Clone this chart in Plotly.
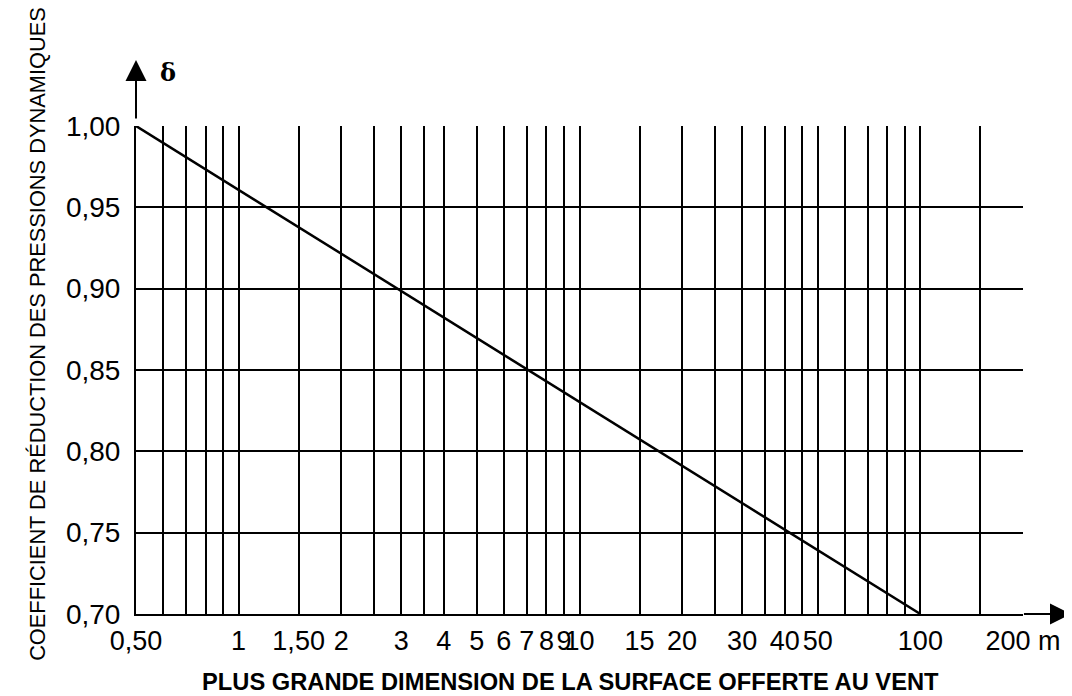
import math
import plotly.graph_objects as go

# Data
line_x = [0.5, 100]
line_y = [1.00, 0.70]

grid_x = [0.5, 0.6, 0.7, 0.8, 0.9, 1, 1.5, 2, 2.5, 3, 3.5, 4, 5, 6, 7, 8, 9,
          10, 15, 20, 25, 30, 35, 40, 45, 50, 60, 70, 80, 90, 100, 150, 200]
label_x = {0.5: "0,50", 1: "1", 1.5: "1,50", 2: "2", 3: "3", 4: "4", 5: "5",
           6: "6", 7: "7", 8: "8", 9: "9", 10: "10", 15: "15", 20: "20",
           30: "30", 40: "40", 50: "50", 100: "100", 200: "200 m"}
y_vals = [0.70, 0.75, 0.80, 0.85, 0.90, 0.95, 1.00]
y_text = ["0,70", "0,75", "0,80", "0,85", "0,90", "0,95", "1,00"]

x_title = "PLUS GRANDE DIMENSION DE LA SURFACE OFFERTE AU VENT"
y_title = "COEFFICIENT DE RÉDUCTION DES PRESSIONS DYNAMIQUES"

fig = go.Figure()
fig.add_trace(go.Scatter(x=line_x, y=line_y, mode="lines",
                         line=dict(color="black", width=2.5),
                         showlegend=False, hoverinfo="skip"))

font_main = "Liberation Sans, Arial, Helvetica, sans-serif"

fig.update_layout(
    width=1064, height=688,
    margin=dict(l=128, r=49, t=118, b=82),
    paper_bgcolor="white", plot_bgcolor="white",
    font=dict(family=font_main, color="black", size=27),
    xaxis=dict(
        type="log",
        range=[math.log10(0.5), math.log10(200)],
        tickmode="array",
        tickvals=grid_x,
        ticktext=[label_x.get(v, "") for v in grid_x],
        tickangle=0, automargin=False,
        showgrid=True, gridcolor="black", gridwidth=1.5,
        showline=True, linecolor="black", linewidth=2, mirror=False,
        ticks="outside", ticklen=2, tickcolor="rgba(0,0,0,0)",
        tickfont=dict(size=27, family=font_main),
        zeroline=False,
    ),
    yaxis=dict(
        range=[0.70, 1.00],
        tickmode="array",
        tickvals=y_vals,
        ticktext=y_text,
        automargin=False,
        showgrid=True, gridcolor="black", gridwidth=1.5,
        showline=True, linecolor="black", linewidth=2,
        ticks="outside", ticklen=8, tickcolor="rgba(0,0,0,0)",
        tickfont=dict(size=28, family=font_main),
        zeroline=False,
    ),
    annotations=[
        dict(xref="paper", yref="paper", x=0.490, y=-0.139,
             text="<b>" + x_title + "</b>", showarrow=False,
             font=dict(size=23.7, family=font_main), xanchor="center", yanchor="middle"),
        dict(xref="paper", yref="paper", x=-0.1105, y=0.574,
             text=y_title, showarrow=False, textangle=-90,
             font=dict(size=21.8, family=font_main),
             xanchor="center", yanchor="middle"),
        dict(xref="paper", yref="paper", x=0.036, y=1.11,
             text="<b>δ</b>", showarrow=False,
             font=dict(size=24, family="DejaVu Serif, Liberation Serif, serif"),
             xanchor="center", yanchor="middle"),
        # axis arrows
        dict(xref="paper", yref="paper", x=0, y=1.135,
             axref="pixel", ayref="pixel", ax=0, ay=60,
             showarrow=True, arrowhead=2, arrowsize=2.1, arrowwidth=2,
             arrowcolor="black", text=""),
        dict(xref="paper", yref="paper", x=1.058, y=0,
             axref="pixel", ayref="pixel", ax=-52, ay=0,
             showarrow=True, arrowhead=2, arrowsize=2.1, arrowwidth=2,
             arrowcolor="black", text=""),
    ],
)

fig.write_html("out.html")
